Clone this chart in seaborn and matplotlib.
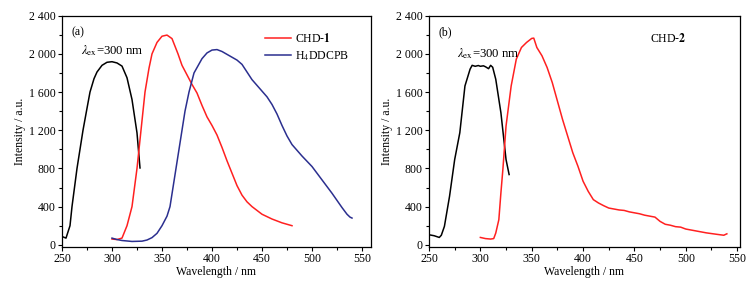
import numpy as np
import pandas as pd
import seaborn as sns
import matplotlib
matplotlib.use("Agg")
import matplotlib.pyplot as plt
from matplotlib.ticker import FuncFormatter, MultipleLocator

# ---- Panel (a) data ----
exc_a_x = [250, 254, 258, 260, 262, 265, 268, 271, 275, 278, 282, 285, 290, 295, 300, 305, 310, 315, 320, 325, 328]
exc_a_y = [87, 70, 200, 400, 560, 800, 1000, 1200, 1430, 1600, 1740, 1810, 1880, 1912, 1918, 1905, 1872, 1750, 1522, 1172, 805]

chd1_x = [300, 305, 310, 315, 320, 325, 329, 333, 337, 340, 345, 350, 355, 360, 366, 370, 375, 380, 385, 390, 395, 400, 405, 410, 415, 420, 425, 430, 435, 440, 450, 460, 470, 480]
chd1_y = [60, 55, 70, 200, 400, 800, 1200, 1600, 1850, 2000, 2120, 2185, 2197, 2160, 2000, 1880, 1780, 1680, 1590, 1460, 1340, 1250, 1150, 1020, 880, 750, 620, 520, 450, 400, 320, 270, 230, 200]

h4_x = [300, 305, 310, 320, 330, 335, 340, 345, 350, 355, 358, 361, 364, 367, 370, 373, 377, 382, 390, 395, 400, 405, 410, 415, 420, 425, 430, 435, 440, 445, 450, 455, 460, 465, 470, 475, 480, 490, 500, 510, 520, 530, 535, 538, 540]
h4_y = [70, 55, 45, 35, 38, 50, 75, 120, 200, 300, 400, 600, 800, 1000, 1200, 1400, 1600, 1800, 1950, 2010, 2040, 2045, 2025, 1995, 1965, 1935, 1890, 1810, 1730, 1670, 1610, 1550, 1470, 1370, 1250, 1140, 1050, 930, 820, 680, 540, 390, 320, 290, 280]

# ---- Panel (b) data ----
exc_b_x = [250, 255, 260, 262, 265, 270, 275, 280, 285, 290, 292, 295, 298, 300, 303, 305, 308, 310, 312, 315, 320, 325, 328]
exc_b_y = [105, 95, 77, 100, 193, 508, 893, 1174, 1664, 1840, 1880, 1870, 1878, 1870, 1875, 1865, 1845, 1880, 1860, 1734, 1384, 893, 736]

chd2_x = [300, 305, 310, 313, 315, 318, 320, 322, 325, 330, 335, 340, 345, 350, 352, 355, 360, 365, 370, 375, 380, 385, 390, 395, 400, 405, 410, 415, 420, 425, 430, 435, 440, 445, 450, 455, 460, 465, 470, 475, 480, 485, 490, 495, 500, 510, 520, 530, 537, 540]
chd2_y = [77, 65, 60, 65, 123, 263, 543, 800, 1244, 1664, 1945, 2067, 2120, 2162, 2165, 2067, 1980, 1857, 1700, 1507, 1314, 1139, 964, 823, 666, 560, 473, 438, 410, 385, 375, 365, 360, 345, 335, 325, 310, 300, 290, 245, 215, 205, 190, 185, 165, 145, 125, 110, 100, 115]

plt.rcParams['font.family'] = ['Liberation Serif', 'DejaVu Serif']
plt.rcParams['mathtext.fontset'] = 'stix'

fig = plt.figure(figsize=(7.53, 2.88), dpi=100)
ax1 = fig.add_axes([62/753, 1-246.7/288, (371-62)/753, (246.7-15.7)/288])
ax2 = fig.add_axes([429/753, 1-246.7/288, (739.7-429)/753, (246.7-15.7)/288])

fs = 8.5
lw = 1.1

def fmt(v, pos):
    v = int(round(v))
    s = f"{v:,}".replace(",", " ")
    return s

def style(ax, xmax):
    ax.set_xlim(250, xmax)
    ax.set_ylim(-20, 2400)
    ax.xaxis.set_major_locator(MultipleLocator(50))
    ax.xaxis.set_minor_locator(MultipleLocator(25))
    ax.yaxis.set_major_locator(MultipleLocator(400))
    ax.yaxis.set_minor_locator(MultipleLocator(200))
    ax.yaxis.set_major_formatter(FuncFormatter(fmt))
    ax.tick_params(which='major', direction='out', length=3, width=0.8, labelsize=fs, pad=1.5)
    ax.tick_params(which='minor', direction='out', length=2, width=0.8)
    for s in ax.spines.values():
        s.set_linewidth(0.9)
    ax.set_xlabel("Wavelength / nm", fontsize=fs, labelpad=1)
    ax.set_ylabel("Intensity / a.u.", fontsize=fs, labelpad=2)

df_exa = pd.DataFrame({"x": exc_a_x, "y": exc_a_y})
df_c1 = pd.DataFrame({"x": chd1_x, "y": chd1_y})
df_h4 = pd.DataFrame({"x": h4_x, "y": h4_y})
sns.lineplot(data=df_exa, x="x", y="y", ax=ax1, color="black", lw=lw, sort=False)
sns.lineplot(data=df_c1, x="x", y="y", ax=ax1, color="#ff2020", lw=lw, sort=False, label=r"CHD-$\mathbf{1}$")
sns.lineplot(data=df_h4, x="x", y="y", ax=ax1, color="#2b2f8f", lw=lw, sort=False, label=r"H$_4$DDCPB")
style(ax1, 559)
leg = ax1.legend(loc="upper right", fontsize=fs, frameon=False, handlelength=2.2,
                 handletextpad=0.3, labelspacing=0.35, borderaxespad=0.3,
                 bbox_to_anchor=(0.955, 0.965))
ax1.text(0.03, 0.93, "(a)", transform=ax1.transAxes, fontsize=fs, va="center")
ax1.text(269, 2030, r"$\lambda_{\rm ex}$=300 nm", fontsize=9.2, va="center")

df_exb = pd.DataFrame({"x": exc_b_x, "y": exc_b_y})
df_c2 = pd.DataFrame({"x": chd2_x, "y": chd2_y})
sns.lineplot(data=df_exb, x="x", y="y", ax=ax2, color="black", lw=lw, sort=False)
sns.lineplot(data=df_c2, x="x", y="y", ax=ax2, color="#ff2020", lw=lw, sort=False)
style(ax2, 552.5)
ax2.text(0.03, 0.93, "(b)", transform=ax2.transAxes, fontsize=fs, va="center")
ax2.text(277, 2000, r"$\lambda_{\rm ex}$=300 nm", fontsize=9.2, va="center")
ax2.text(465, 2162, r"CHD-$\mathbf{2}$", fontsize=fs, va="center")

fig.savefig("out.png", dpi=100)
